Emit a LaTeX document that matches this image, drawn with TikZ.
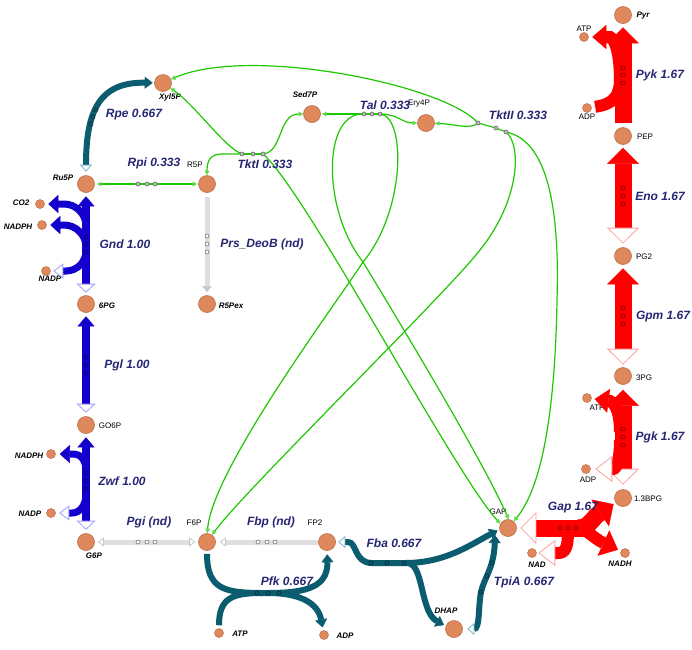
\documentclass[tikz,border=0pt]{standalone}
\usepackage{fontspec}
\setmainfont{Liberation Sans}
\usetikzlibrary{arrows.meta}
\definecolor{metfill}{RGB}{223,136,92}
\definecolor{metdraw}{RGB}{190,110,70}
\definecolor{labcol}{RGB}{38,38,115}
\definecolor{bluec}{RGB}{20,0,204}
\definecolor{blueo}{RGB}{160,160,255}
\definecolor{tealc}{RGB}{12,92,112}
\definecolor{tealo}{RGB}{130,180,200}
\definecolor{redc}{RGB}{255,0,0}
\definecolor{redo}{RGB}{255,160,160}
\definecolor{grnc}{RGB}{30,200,0}
\definecolor{grayc}{RGB}{222,222,222}
\definecolor{grayo}{RGB}{200,200,200}
\tikzset{
 blueF/.tip={Triangle[width=17pt,length=10pt,line width=0.4pt,color=bluec]},
 blueO/.tip={Triangle[width=19pt,length=9pt,line width=0.8pt,color=blueo,fill=white]},
 blueFs/.tip={Triangle[width=18pt,length=10pt,line width=0.4pt,color=bluec]},
 blueOs/.tip={Triangle[width=15pt,length=10pt,line width=0.8pt,color=blueo,fill=white]},
 redF/.tip={Triangle[width=32pt,length=16pt,line width=0.4pt,color=redc]},
 redO/.tip={Triangle[width=32pt,length=16pt,line width=0.8pt,color=redo,fill=white]},
 redFs/.tip={Triangle[width=24pt,length=14pt,line width=0.4pt,color=redc]},
 redFn/.tip={Triangle[width=28pt,length=16pt,line width=0.4pt,color=redc]},
 redOs/.tip={Triangle[width=26pt,length=17pt,line width=0.8pt,color=redo,fill=white]},
 tealF/.tip={Triangle[width=12pt,length=8pt,line width=0.4pt,color=tealc]},
 tealO/.tip={Triangle[width=12pt,length=7pt,line width=0.8pt,color=tealo,fill=white]},
 grayF/.tip={Triangle[width=9pt,length=6pt,line width=0.4pt,color=grayo]},
 grayO/.tip={Triangle[width=9pt,length=6pt,line width=0.8pt,color=grayo,fill=white]},
 grnT/.tip={Triangle[width=4.5pt,length=4.5pt,line width=0.3pt,color=grnc!70!white]},
}
\begin{document}
\begin{tikzpicture}[x=1pt,y=-1pt,
 met/.style={circle,fill=metfill,draw=metdraw,line width=0.6pt,minimum size=17pt,inner sep=0pt},
 cof/.style={circle,fill=metfill,draw=metdraw,line width=0.5pt,minimum size=9pt,inner sep=0pt},
 ml/.style={inner sep=0pt,font=\fontsize{8}{9}\selectfont},
 mli/.style={inner sep=0pt,font=\fontsize{8}{9}\selectfont\bfseries\itshape},
 rl/.style={inner sep=0pt,text=labcol,font=\fontsize{12}{14}\selectfont\bfseries\itshape},
 blueA/.style={draw=bluec,line width=7.5pt},
 blueB/.style={draw=bluec,line width=7pt},
 redA/.style={draw=redc,line width=17pt},
 redB/.style={draw=redc,line width=12pt},
 tealA/.style={draw=tealc,line width=6pt},
 grayA/.style={draw=grayc,line width=5pt},
 grn/.style={draw=grnc,line width=1.2pt},
 dg/.style={draw=black!60,fill=black!25,line width=0.6pt},
 dc/.style={draw=black,draw opacity=0.45,line width=0.7pt},
 dw/.style={draw=black!55,fill=white,line width=0.6pt},
]
\useasboundingbox (0,0) rectangle (692,649);
\fill[white] (0,0) rectangle (692,649);

% ---------- metabolites ----------
\node[met] (Xyl5P) at (163,83) {};
\node[met] (Ru5P) at (86,184) {};
\node[met] (R5P) at (207,184) {};
\node[met] (R5Pex) at (207,304) {};
\node[met] (Sed7P) at (312,114) {};
\node[met] (Ery4P) at (426,123) {};
\node[met] (n6PG) at (86,304) {};
\node[met] (GO6P) at (86,425) {};
\node[met] (G6P) at (86,542) {};
\node[met] (F6P) at (207,542) {};
\node[met] (FP2) at (327,542) {};
\node[met] (GAP) at (508,528) {};
\node[met] (DHAP) at (454,629) {};
\node[met] (BPG) at (623,498) {};
\node[met] (Pyr) at (623,15) {};
\node[met] (PEP) at (623,136) {};
\node[met] (PG2) at (623,256) {};
\node[met] (n3PG) at (623,376) {};

\node[cof] (CO2) at (40,204) {};
\node[cof] (NADPHa) at (42,225) {};
\node[cof] (NADPa) at (46,271) {};
\node[cof] (NADPHb) at (51,454) {};
\node[cof] (NADPb) at (51,513) {};
\node[cof] (ATPb) at (219,633) {};
\node[cof] (ADPb) at (324,635) {};
\node[cof] (NAD) at (532,553) {};
\node[cof] (NADH) at (625,553) {};
\node[cof] (ATPt) at (584,37) {};
\node[cof] (ADPt) at (587,108) {};
\node[cof] (ATPm) at (587,398) {};
\node[cof] (ADPm) at (586,469) {};

% ---------- metabolite labels ----------
\node[mli] (lXyl5P) at (170,97) {Xyl5P};
\node[mli] (lRu5P) at (63,178) {Ru5P};
\node[ml] (lR5P) at (195,165) {R5P};
\node[mli] (lR5Pex) at (231,306) {R5Pex};
\node[mli] (lSed7P) at (305,95) {Sed7P};
\node[ml] (lEry4P) at (419,104) {Ery4P};
\node[mli] (lCO2) at (21,203) {CO2};
\node[mli] (lNADPHa) at (18,227) {NADPH};
\node[mli] (lNADPa) at (50,279) {NADP};
\node[mli] (l6PG) at (107,306) {6PG};
\node[ml] (lGO6P) at (110,426) {GO6P};
\node[mli] (lNADPHb) at (29,456) {NADPH};
\node[mli] (lNADPb) at (30,514) {NADP};
\node[mli] (lG6P) at (94,556) {G6P};
\node[ml] (lF6P) at (194,523) {F6P};
\node[ml] (lFP2) at (315,523) {FP2};
\node[mli] (lATPb) at (240,634) {ATP};
\node[mli] (lADPb) at (345,636) {ADP};
\node[ml] (lGAP) at (498,512) {GAP};
\node[mli] (lDHAP) at (446,611) {DHAP};
\node[ml] (lBPG) at (648,499) {1.3BPG};
\node[mli] (lNAD) at (537,565) {NAD};
\node[mli] (lNADH) at (620,564) {NADH};
\node[mli] (lPyr) at (643,16) {Pyr};
\node[ml] (lATPt) at (584,29) {ATP};
\node[ml] (lADPt) at (587,117) {ADP};
\node[ml] (lPEP) at (645,137) {PEP};
\node[ml] (lPG2) at (644,257) {PG2};
\node[ml] (l3PG) at (644,378) {3PG};
\node[ml] (lATPm) at (597,408) {ATP};
\node[ml] (lADPm) at (588,480) {ADP};

% ---------- reaction points ----------
\coordinate (tkA) at (242,154);
\coordinate (tkB) at (263,154);
\coordinate (taA) at (364,114);
\coordinate (taB) at (380,114);
\coordinate (t2A) at (478,123);
\coordinate (t2M) at (496,128);
\coordinate (t2B) at (506,132);
\coordinate (talX) at (363,262);
\coordinate (t2X) at (480,250);
\coordinate (t2Y) at (557,300);
\coordinate (tpiend) at (495,535);

% ---------- gray (nd) ----------
\draw[grayA,{grayO}-{grayO},shorten <=3pt,shorten >=3pt] (G6P) -- (F6P);
\draw[grayA,-{grayO},shorten >=4pt] (FP2) -- (F6P);
\draw[grayA,-{grayF},shorten <=4pt,shorten >=3pt] (R5P) -- (R5Pex);

% ---------- green ----------
\draw[grn,{grnT}-{grnT},shorten <=2pt,shorten >=1pt] (Ru5P) -- (R5P);
% TktI
\draw[grn,{grnT}-] (Xyl5P) .. controls (195,105) and (225,148) .. (tkA);
\draw[grn] (tkA) -- (tkB);
\draw[grn,-{grnT}] (tkA) -- (222,154) .. controls (211,154) and (207,160) .. (R5P);
\draw[grn,-{grnT}] (tkB) .. controls (283,152) and (278,114) .. (Sed7P);
\draw[grn,-{grnT}] (tkB) .. controls (305,190) and (455,475) .. (GAP.150);
% Tal
\draw[grn] (taA) -- (taB);
\draw[grn,-{grnT},shorten >=1pt] (taA) -- (Sed7P);
\draw[grn,-{grnT}] (taA) .. controls (322,112) and (322,210) .. (talX) .. controls (395,315) and (480,455) .. (GAP.85);
\draw[grn,-{grnT}] (taB) .. controls (398,114) and (402,123) .. (Ery4P);
\draw[grn,-{grnT}] (taB) .. controls (406,116) and (406,210) .. (talX) .. controls (335,305) and (212,470) .. (F6P.88);
% TktII
\draw[grn] (t2A) -- (t2M) -- (t2B);
\draw[grn,-{grnT}] (t2A) .. controls (445,85) and (250,45) .. (Xyl5P.25);
\draw[grn,-{grnT}] (t2A) .. controls (470,130) and (455,124) .. (Ery4P);
\draw[grn,-{grnT}] (t2B) .. controls (522,145) and (520,200) .. (t2X) .. controls (445,295) and (245,490) .. (F6P.55);
\draw[grn,-{grnT}] (t2B) .. controls (545,140) and (560,200) .. (t2Y) .. controls (555,420) and (540,490) .. (GAP.50);

% ---------- blue ----------
\draw[blueA,{blueO}-{blueF},shorten <=2.5pt,shorten >=3.5pt] (n6PG) -- (Ru5P);
\draw[blueB,-{blueFs},shorten >=3.5pt] (86,234) -- (86,226) .. controls (86,214) and (76,204) .. (64,204) -- (CO2);
\draw[blueB,-{blueFs},shorten >=3.5pt] (86,255) -- (86,247) .. controls (86,235) and (76,225) .. (64,225) -- (NADPHa);
\draw[blueB,-{blueOs},shorten >=2.5pt] (86,244) -- (86,251) .. controls (86,262) and (77,271) .. (66,271) -- (NADPa);
\draw[blueA,{blueO}-{blueF},shorten <=3.5pt,shorten >=3.5pt] (GO6P) -- (n6PG);
\draw[blueA,{blueO}-{blueF},shorten <=3.5pt,shorten >=3.5pt] (G6P) -- (GO6P);
\draw[blueB,-{blueFs},shorten >=4pt] (86,480) -- (86,470) .. controls (86,460) and (80,454) .. (74,454) -- (NADPHb);
\draw[blueB,-{blueOs},shorten >=3.5pt] (86,484) -- (86,494) .. controls (86,505) and (80,513) .. (72,513) -- (NADPb);

% ---------- red ----------
\draw[redA,-{redF},shorten <=4pt,shorten >=3.5pt] (PEP) -- (Pyr);
\draw[redB,shorten <=3.5pt] (ADPt) .. controls (614,104) and (620,96) .. (620,78);
\draw[redB,-{redFs},shorten >=3.5pt] (620,82) .. controls (620,56) and (616,40) .. (610,37) -- (ATPt);
\draw[redA,{redO}-{redF},shorten <=3.5pt,shorten >=3pt] (PG2) -- (PEP);
\draw[redA,{redO}-{redF},shorten <=2.5pt,shorten >=3.5pt] (n3PG) -- (PG2);
\draw[redA,{redO}-{redF},shorten <=4.5pt,shorten >=5pt] (BPG) -- (n3PG);
\draw[redB,-{redFs},shorten >=3pt] (620,432) .. controls (620,414) and (616,404) .. (610,401) -- (ATPm);
\draw[redB,-{redOs},shorten >=4.5pt] (620,440) .. controls (620,458) and (617,469) .. (613,469) -- (ADPm);
\draw[redA,{redO}-,shorten <=3.5pt] (GAP) -- (584,528);
\draw[redA,-{redF},shorten >=2.5pt] (578,528) .. controls (588,528) and (592,520) .. (597,515) -- (BPG);
\draw[redB,-{redOs},shorten >=1.5pt] (568,532) .. controls (568,548) and (565,553) .. (558,553) -- (NAD);
\draw[redB,-{redFn},shorten >=3pt] (584,530) .. controls (591,534) and (597,540) .. (NADH);

% ---------- teal ----------
\draw[tealA,{tealO}-{tealF},shorten <=3.5pt,shorten >=1.5pt] (Ru5P) .. controls (86,110) and (100,82) .. (Xyl5P);
\draw[tealA,-{tealF},shorten <=3pt,shorten >=3.5pt] (F6P) .. controls (207,590) and (225,593) .. (265,593) .. controls (300,593) and (328,590) .. (FP2);
\draw[tealA,shorten <=3pt] (ATPb) .. controls (219,598) and (232,593) .. (262,593);
\draw[tealA,-{tealF},shorten >=3pt] (268,593) .. controls (300,593) and (318,603) .. (ADPb);
\draw[tealA,{tealO}-,shorten <=2.5pt] (FP2) -- (348,542) .. controls (357,542) and (354,563) .. (372,563) -- (410,563);
\draw[tealA,-{tealF},shorten >=2pt] (405,563) .. controls (445,563) and (470,545) .. (GAP.190);
\draw[tealA,-{tealF},shorten >=2pt] (408,563) .. controls (424,565) and (420,612) .. (DHAP.160);
\draw[tealA,{tealO}-{tealF},shorten <=4.5pt] (DHAP) .. controls (480,629) and (478,608) .. (481,592) .. controls (484,578) and (494,568) .. (tpiend);

% ---------- reaction dots ----------
\foreach \p in {(138,184),(147,184),(155,184),(242,154),(253,154),(263,154),(364,114),(372,114),(380,114),(478,123),(496,128),(506,132)}
  \draw[dg] \p circle (2pt);
\foreach \p in {(207,236),(207,244),(207,252),(138,542),(147,542),(155,542),(258,542),(267,542),(275,542)}
  \draw[dw] \p circle (2pt);
\foreach \p in {(86,237),(86,244),(86,252),(86,357),(86,365),(86,373),(86,473),(86,481),(86,489),
  (623,68),(623,75),(623,83),(623,188),(623,196),(623,204),(623,308),(623,316),(623,324),(623,429),(623,437),(623,445),
  (560,528),(568,528),(576,528),(91,124),(93,117),(96,110),(257,593),(268,593),(279,593),(371,563),(387,563),(404,563),
  (481,592),(487,576),(492,563)}
  \draw[dc] \p circle (2pt);

% ---------- reaction labels ----------
\node[rl] (rRpe) at (134,115) {Rpe 0.667};
\node[rl] (rRpi) at (154,163) {Rpi 0.333};
\node[rl] (rTktI) at (265,164) {TktI 0.333};
\node[rl] (rTal) at (385,105) {Tal 0.333};
\node[rl] (rTktII) at (518,115) {TktII 0.333};
\node[rl] (rPrs) at (262,244) {Prs\_DeoB (nd)};
\node[rl] (rGnd) at (125,244) {Gnd 1.00};
\node[rl] (rPgl) at (127,365) {Pgl 1.00};
\node[rl] (rZwf) at (122,481) {Zwf 1.00};
\node[rl] (rPgi) at (149,522) {Pgi (nd)};
\node[rl] (rFbp) at (271,522) {Fbp (nd)};
\node[rl] (rPfk) at (287,581) {Pfk 0.667};
\node[rl] (rFba) at (394,543) {Fba 0.667};
\node[rl] (rTpiA) at (524,582) {TpiA 0.667};
\node[rl] (rGap) at (573,508) {Gap 1.67};
\node[rl] (rPyk) at (660,75) {Pyk 1.67};
\node[rl] (rEno) at (660,196) {Eno 1.67};
\node[rl] (rGpm) at (663,317) {Gpm 1.67};
\node[rl] (rPgk) at (660,437) {Pgk 1.67};
\end{tikzpicture}
\end{document}
